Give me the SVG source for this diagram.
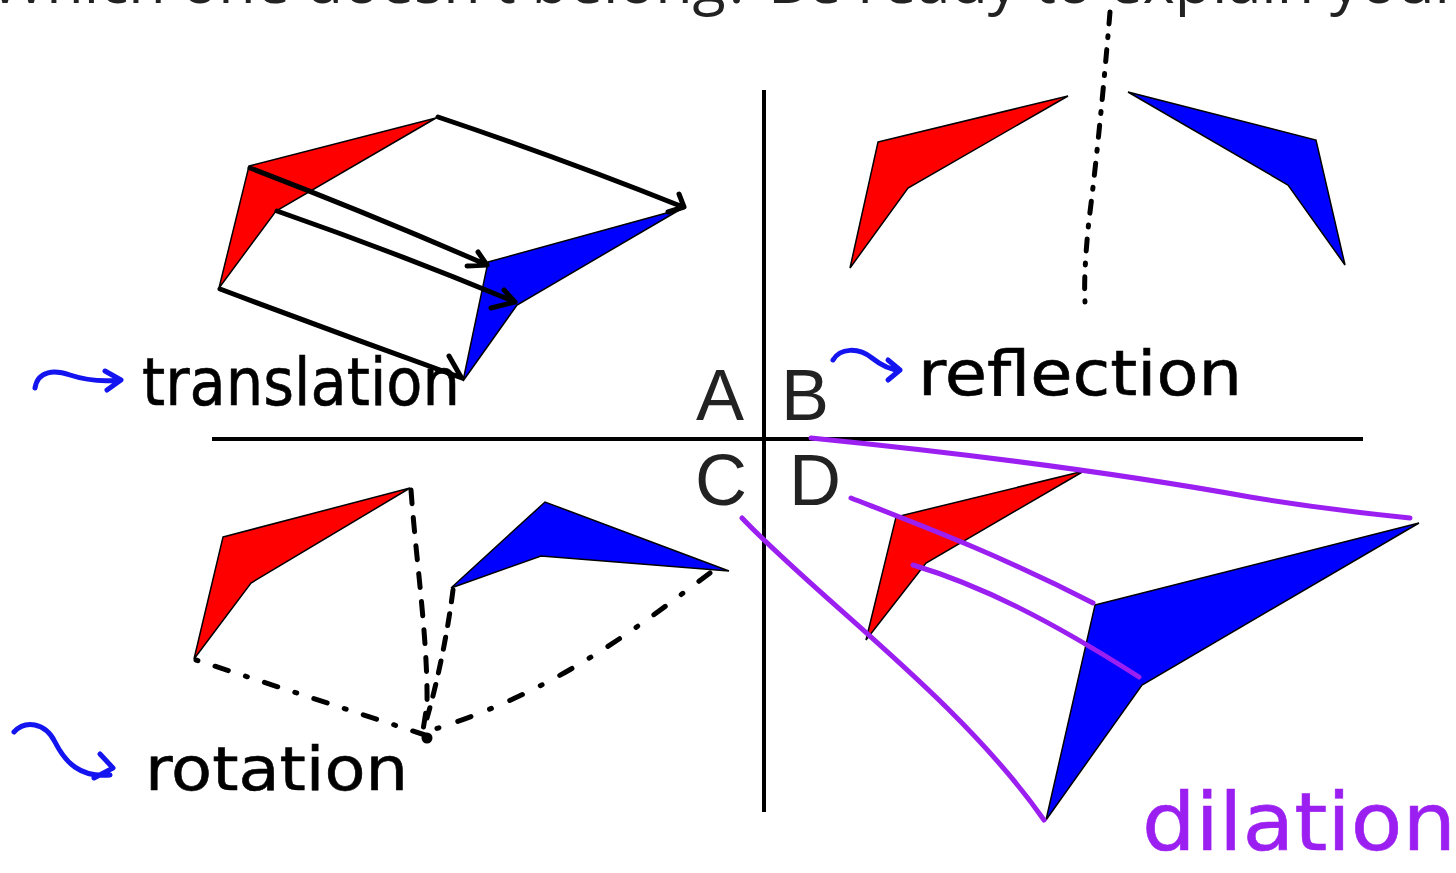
<svg xmlns="http://www.w3.org/2000/svg" width="1456" height="873" viewBox="0 0 1456 873">
<style>
.red{fill:#ff0000;stroke:#000;stroke-width:1.5;stroke-linejoin:miter}
.blue{fill:#0000ff;stroke:#000;stroke-width:1.5;stroke-linejoin:miter}
.ink{fill:none;stroke:#000;stroke-width:5;stroke-linecap:round;stroke-linejoin:round}
.bink{fill:none;stroke:#1414f0;stroke-width:5;stroke-linecap:round;stroke-linejoin:round}
.pink{fill:none;stroke:#9b1ff0;stroke-width:5;stroke-linecap:round;stroke-linejoin:round}
.axis{fill:none;stroke:#000;stroke-width:4}
.lbl{font-family:"Liberation Sans",Arial,sans-serif;font-size:72px;fill:#222}
.hand{font-family:"DejaVu Sans","Liberation Sans",sans-serif;fill:#000;stroke:#000;stroke-width:0.6}
.title{font-family:"Open Sans","Noto Sans",sans-serif;font-size:61px;fill:#222}
</style>

<g id="title">
<text class="title" x="-10" y="3">Which one doesn't belong? Be ready to explain your</text>
</g>

<g id="axes">
<line class="axis" x1="764" y1="90" x2="764" y2="812"/>
<line class="axis" x1="212" y1="439" x2="1363" y2="439"/>
</g>

<g id="labels">
<text class="lbl" x="696" y="420">A</text>
<text class="lbl" x="781" y="420">B</text>
<text class="lbl" x="695" y="505">C</text>
<text class="lbl" x="789" y="505">D</text>
</g>

<g id="panel-a">
<polygon class="red" points="249,166 436,118 276,211 219,288"/>
<polygon class="blue" points="488,262 681,209 517,305 463,381"/>
</g>

<g id="panel-b">
<polygon class="red" points="878,142 1068,96 908,188 850,268"/>
<polygon class="blue" points="1128,92 1316,140 1345,265 1288,185"/>
</g>

<g id="panel-c">
<polygon class="red" points="223,537 410,488 251,583 194,659"/>
<polygon class="blue" points="451,588 545,502 729,571 541,556"/>
<circle cx="427" cy="738" r="5.5" fill="#000"/>
</g>

<g id="panel-d">
<polygon class="red" points="896,517 1084,471 926,563 866,640"/>
<polygon class="blue" points="1095,605 1419,523 1142,685 1046,820"/>
</g>

<g id="connectors">
<!-- translation arrows -->
<path class="ink" d="M438,117 Q560,158 683,207 M679,194 L684,207 L668,212"/>
<path class="ink" d="M250,168 Q370,214 487,265 M478,252 L487,265 L467,266"/>
<path class="ink" d="M277,211 Q400,254 515,302 M504,290 L515,302 L491,308"/>
<path class="ink" d="M220,289 Q340,334 462,378 M449,356 L461,377"/>
<!-- reflection line -->
<path class="ink" stroke-dasharray="12 12 2 12" d="M1110,12 C1106,60 1098,150 1089,220 C1085,258 1084,285 1085,302"/>
<!-- rotation -->
<path class="ink" stroke-dasharray="14 14" d="M411,490 C416,560 428,640 427,705 L423,730"/>
<path class="ink" stroke-dasharray="12 12" d="M453,590 C448,630 438,680 427,718"/>
<path class="ink" stroke-dasharray="2 18 14 18" d="M196,660 L425,735"/>
<path class="ink" stroke-dasharray="14 20 2 20" d="M710,573 C640,625 560,690 432,730"/>
<!-- dilation rays -->
<path class="pink" d="M811,438 C950,452 1100,470 1250,497 C1330,510 1380,515 1410,518"/>
<path class="pink" d="M851,498 C920,525 1000,555 1093,603"/>
<path class="pink" d="M913,565 C980,585 1050,620 1139,677"/>
<path class="pink" d="M742,518 C820,600 960,700 1044,820"/>
<!-- blue pointer arrows -->
<path class="bink" d="M35,388 C38,370 55,370 70,375 C85,380 100,382 120,380 M105,371 L121,380 L107,390"/>
<path class="bink" d="M833,360 C840,348 858,347 872,358 C882,366 892,370 900,370 M888,360 L900,370 L888,380"/>
<path class="bink" d="M14,732 C25,720 45,722 55,742 C65,762 80,778 110,775 M100,754 L113,768 L94,778"/>
</g>

<g id="words">
<text class="hand" x="142" y="405" font-size="66" textLength="318" lengthAdjust="spacingAndGlyphs">translation</text>
<text class="hand" x="918" y="395" font-size="62" textLength="324" lengthAdjust="spacingAndGlyphs">reflection</text>
<text class="hand" x="145" y="790" font-size="60" textLength="263" lengthAdjust="spacingAndGlyphs">rotation</text>
<text class="hand" x="1142" y="850" font-size="80" textLength="314" lengthAdjust="spacingAndGlyphs" style="fill:#9b1ff0;stroke:#9b1ff0">dilation</text>
</g>
</svg>
